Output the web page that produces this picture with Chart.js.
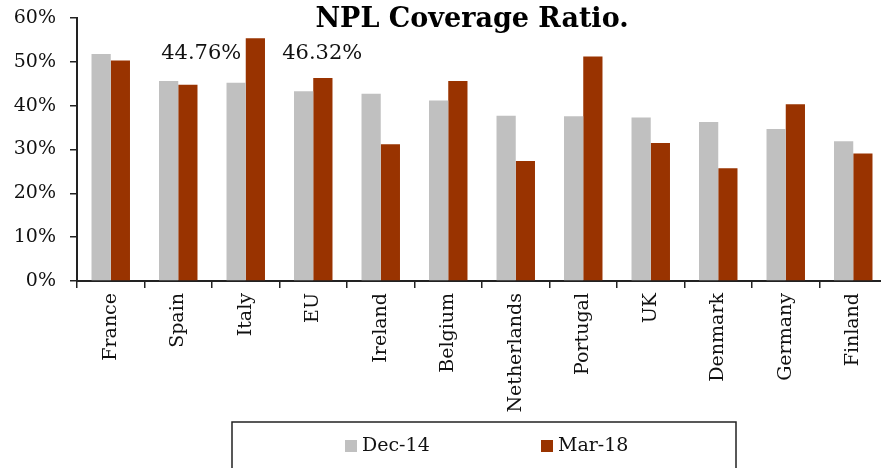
<!DOCTYPE html>
<html>
<head>
<meta charset="utf-8">
<script src="https://cdn.jsdelivr.net/npm/chart.js@4.4.0/dist/chart.umd.min.js"></script>
<style>
  html, body { margin: 0; padding: 0; background: #fff; overflow: hidden; }
  #wrap { width: 887px; height: 468px; }
</style>
</head>
<body>
<div id="wrap"><canvas id="chartBar"></canvas></div>
<script>
// data
const countries = ['France', 'Spain', 'Italy', 'EU', 'Ireland', 'Belgium', 'Netherlands',
  'Portugal', 'UK', 'Denmark', 'Germany', 'Finland'];
const dec14 = [51.8, 45.6, 45.2, 43.3, 42.7, 41.2, 37.7, 37.6, 37.3, 36.3, 34.7, 31.9];
const mar18 = [50.3, 44.76, 55.4, 46.32, 31.2, 45.6, 27.4, 51.2, 31.5, 25.7, 40.3, 29.1];
const seriesNames = ['Dec-14', 'Mar-18'];
const seriesColors = ['#c0c0c0', '#993300'];
const yTicks = [0, 10, 20, 30, 40, 50, 60];
const noted = [1, 3]; // bars whose Mar-18 value is written on the chart
const title = 'NPL Coverage Ratio.';

const serif = '"DejaVu Serif", "Liberation Serif", serif';
Chart.defaults.font.family = serif;
Chart.defaults.color = '#111';

const extras = {
  id: 'extras',
  afterDraw(chart) {
    const ctx = chart.ctx;
    const area = chart.chartArea;
    const xs = chart.scales.x, ys = chart.scales.y;
    ctx.save();

    // title
    ctx.fillStyle = '#000';
    ctx.textAlign = 'center';
    ctx.textBaseline = 'middle';
    ctx.font = 'bold 27px ' + serif;
    ctx.fillText(title, (area.left + area.right) / 2 - 10, 20);

    // value notes
    ctx.font = '21px ' + serif;
    ctx.fillStyle = '#111';
    const shift = [23, 9];
    noted.forEach(function (i, k) {
      ctx.fillText(mar18[i].toFixed(2) + '%', xs.getPixelForValue(i) + shift[k], ys.getPixelForValue(52));
    });

    // legend box
    const mid = (area.left + area.right) / 2 + 2;
    const top = area.bottom + 141;
    ctx.strokeStyle = '#222';
    ctx.lineWidth = 1.5;
    ctx.strokeRect(mid - 252, top, 504, 60);
    ctx.font = '19px ' + serif;
    ctx.textAlign = 'left';
    const itemX = [mid - 139, mid + 57];
    seriesNames.forEach(function (name, k) {
      ctx.fillStyle = seriesColors[k];
      ctx.fillRect(itemX[k], top + 18, 12, 12);
      ctx.fillStyle = '#111';
      ctx.fillText(name, itemX[k] + 17, top + 24);
    });
    ctx.restore();
  }
};

new Chart(document.getElementById('chartBar'), {
  type: 'bar',
  data: {
    labels: countries,
    datasets: [
      { label: seriesNames[0], data: dec14, backgroundColor: seriesColors[0] },
      { label: seriesNames[1], data: mar18, backgroundColor: seriesColors[1] }
    ]
  },
  options: {
    responsive: true,
    maintainAspectRatio: false,
    animation: false,
    layout: { padding: { top: 18, right: 0, bottom: 46, left: 0 } },
    datasets: { bar: { barPercentage: 1, categoryPercentage: 0.57 } },
    plugins: {
      legend: { display: false },
      tooltip: { enabled: false }
    },
    scales: {
      x: {
        grid: { display: true, drawOnChartArea: false, offset: true, tickLength: 7, color: '#222', lineWidth: 1.5 },
        border: { color: '#222', width: 2 },
        ticks: { maxRotation: 90, minRotation: 90, padding: 5, font: { size: 19 }, color: '#111' },
        afterFit: function (s) { s.height = 141; s.paddingLeft = 0; s.paddingRight = 0; }
      },
      y: {
        min: 0,
        max: 60,
        afterBuildTicks: function (s) { s.ticks = yTicks.map(function (v) { return { value: v }; }); },
        grid: { display: true, drawOnChartArea: false, tickLength: 7, color: '#222', lineWidth: 1.5 },
        border: { color: '#222', width: 2 },
        ticks: { padding: 14, font: { size: 19 }, color: '#111', callback: function (v) { return v + '%'; } },
        afterFit: function (s) { s.width = 77; s.paddingTop = 0; s.paddingBottom = 0; }
      }
    }
  },
  plugins: [extras]
});
</script>
</body>
</html>
